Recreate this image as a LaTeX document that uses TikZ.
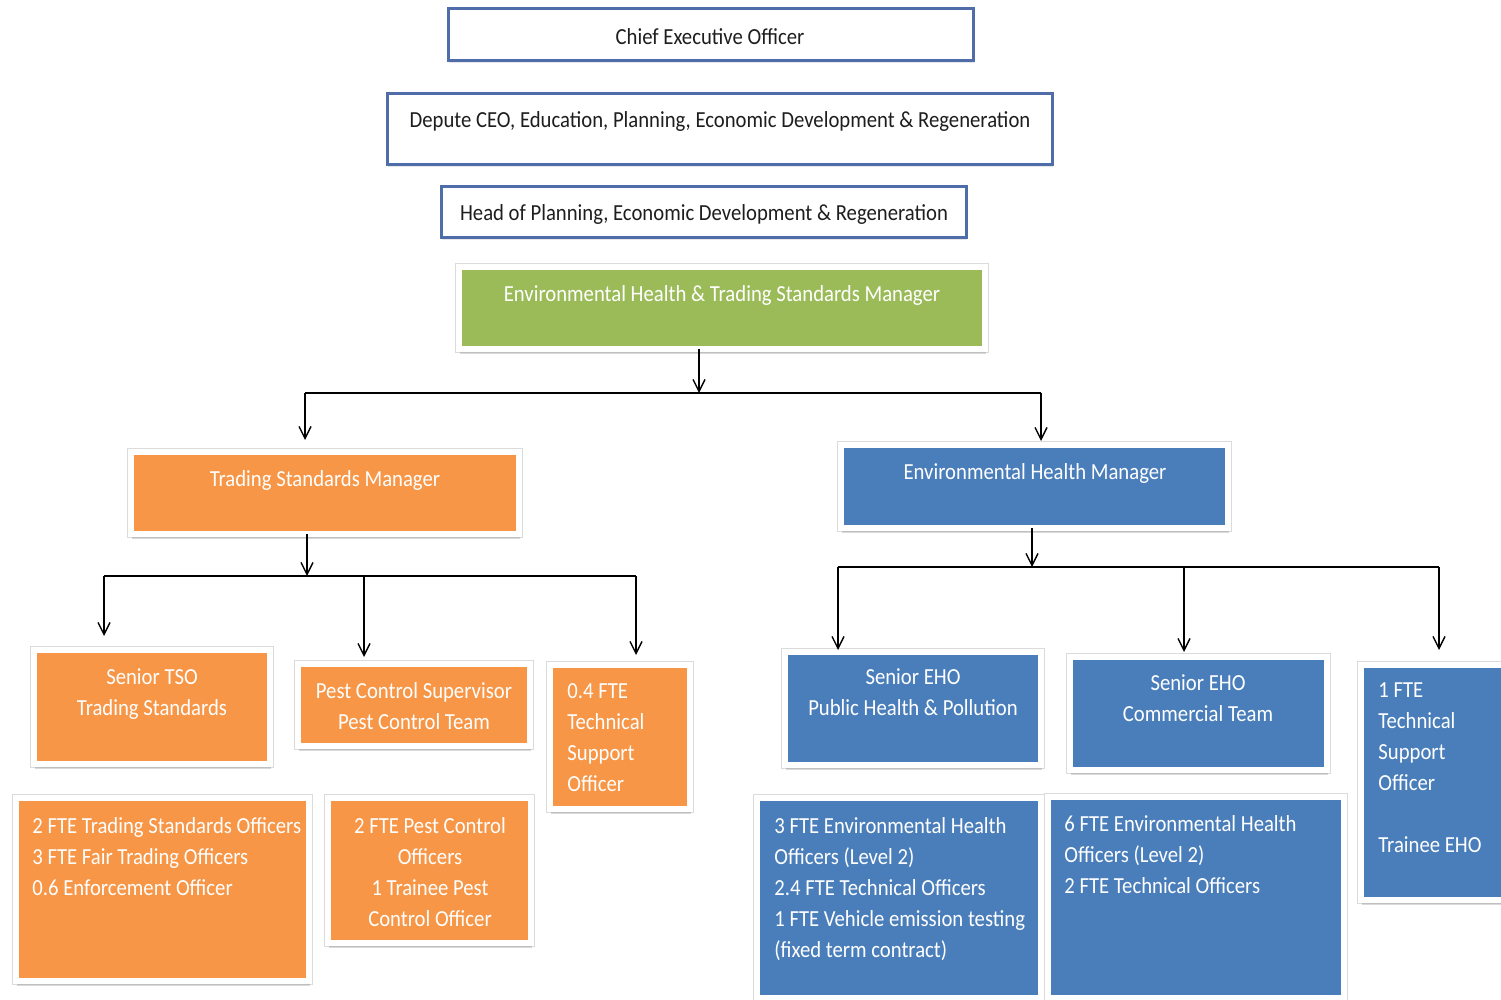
\documentclass[tikz,border=0pt]{standalone}
\usepackage{fontspec}
\setmainfont{Carlito}[FakeStretch=0.9]
\usetikzlibrary{fit,shadows,arrows.meta}

\definecolor{ceoblue}{RGB}{79,109,168}
\definecolor{ehgreen}{RGB}{155,187,89}
\definecolor{tsorange}{RGB}{247,150,70}
\definecolor{ehblue}{RGB}{74,126,187}
\definecolor{inkdark}{RGB}{30,30,30}

\newcommand\orgfont{\fontsize{11.5}{15.5}\selectfont}

\tikzset{
  topbox/.style={draw=ceoblue, line width=1.5pt, fill=white, inner sep=0pt, outer sep=0pt,
    drop shadow={shadow xshift=0.3pt, shadow yshift=-1pt, opacity=.2, fill=black!50}},
  unitbox/.style={fill=#1, draw=white, line width=3pt, inner sep=1.5pt, outer sep=0pt,
    preaction={draw=black!14, line width=3.8pt},
    drop shadow={shadow xshift=0.5pt, shadow yshift=-2.5pt, opacity=.3, fill=black!50}},
  toptext/.style={text=inkdark, font=\orgfont, inner sep=0pt, anchor=north, align=center},
  boxtext/.style={text=white, font=\orgfont, inner sep=0pt, anchor=north, align=center},
  listtext/.style={text=white, font=\orgfont, inner sep=0pt, anchor=north west, align=left},
  arr/.style={-{Straight Barb[length=6pt,width=6pt]}, line width=0.7pt},
  bar/.style={line width=0.7pt},
}

\begin{document}
\begin{tikzpicture}[x=0.5pt, y=-0.5pt]
    \useasboundingbox (0,0) rectangle (1501,1000);
    \clip (0,0) rectangle (1501,1000);

    % top of the chain
    \node[topbox, fit={(448,9) (973,61)}] (ceo) {};
    \node[toptext] (ceo-txt) at (710,28) {Chief Executive Officer};
    \node[topbox, fit={(387,94) (1052,165)}] (dep) {};
    \node[toptext] (dep-txt) at (720,111) {Depute CEO, Education, Planning, Economic Development \& Regeneration};
    \node[topbox, fit={(441,187) (966,238)}] (head) {};
    \node[toptext] (head-txt) at (704,204) {Head of Planning, Economic Development \& Regeneration};

    \node[unitbox=ehgreen, fit={(462,270) (982,346)}] (ehts) {};
    \node[boxtext] (ehts-txt) at (722,285) {Environmental Health \& Trading Standards Manager};

    % trading standards side
    \node[unitbox=tsorange, fit={(134,455) (516,531)}] (tsm) {};
    \node[boxtext] (tsm-txt) at (325,470) {Trading Standards Manager};
    \node[unitbox=tsorange, fit={(37,653) (267,761)}] (sto) {};
    \node[boxtext] (sto-txt) at (152,668) {Senior TSO\\Trading Standards};
    \node[unitbox=tsorange, fit={(301,667) (527,743)}] (pcs) {};
    \node[boxtext] (pcs-txt) at (414,682) {Pest Control Supervisor\\Pest Control Team};
    \node[unitbox=tsorange, fit={(553,668) (687,806)}] (tso4) {};
    \node[listtext] (tso4-txt) at (567,683) {0.4 FTE\\Technical\\Support\\Officer};
    \node[unitbox=tsorange, fit={(19,801) (306,978)}] (tso) {};
    \node[listtext] (tso-txt) at (32,817) {2 FTE Trading Standards Officers\\3 FTE Fair Trading Officers\\0.6 Enforcement Officer};
    \node[unitbox=tsorange, fit={(331,801) (528,940)}] (pco) {};
    \node[boxtext] (pco-txt) at (430,817) {2 FTE Pest Control\\Officers\\1 Trainee Pest\\Control Officer};

    % environmental health side
    \node[unitbox=ehblue, fit={(844,448) (1225,525)}] (ehm) {};
    \node[boxtext] (ehm-txt) at (1035,463) {Environmental Health Manager};
    \node[unitbox=ehblue, fit={(788,655) (1038,762)}] (seho1) {};
    \node[boxtext] (seho1-txt) at (913,668) {Senior EHO\\Public Health \& Pollution};
    \node[unitbox=ehblue, fit={(1073,660) (1324,767)}] (seho2) {};
    \node[boxtext] (seho2-txt) at (1198,674) {Senior EHO\\Commercial Team};
    \node[unitbox=ehblue, fit={(1364,668) (1520,897)}] (tech1) {};
    \node[listtext] (tech1-txt) at (1378,682) {1 FTE\\Technical\\Support\\Officer\\[15.5pt]Trainee EHO};
    \node[unitbox=ehblue, fit={(760,801) (1038,995)}] (eho3) {};
    \node[listtext] (eho3-txt) at (774,817) {3 FTE Environmental Health\\Officers (Level 2)\\2.4 FTE Technical Officers\\1 FTE Vehicle emission testing\\(fixed term contract)};
    \node[unitbox=ehblue, fit={(1051,800) (1341,995)}] (eho6) {};
    \node[listtext] (eho6-txt) at (1064,815) {6 FTE Environmental Health\\Officers (Level 2)\\2 FTE Technical Officers};

    % connectors
    \coordinate (split1) at (699,393);
    \coordinate (tsdrop) at (305,393);
    \coordinate (ehdrop) at (1041,393);
    \draw[arr] (ehts.south -| split1) -- (split1);
    \draw[bar] (tsdrop) -- (ehdrop);
    \draw[arr, shorten >=6pt] (tsdrop) -- (tsdrop |- tsm.north);
    \draw[arr, shorten >=2pt] (ehdrop) -- (ehdrop |- ehm.north);

    \coordinate (split2) at (307,576);
    \coordinate (stodrop) at (104,576);
    \coordinate (pcsdrop) at (364,576);
    \coordinate (tso4drop) at (636,576);
    \draw[arr] (tsm.south -| split2) -- (split2);
    \draw[bar] (stodrop) -- (tso4drop);
    \draw[arr, shorten >=7pt] (stodrop) -- (stodrop |- sto.north);
    \draw[arr, shorten >=3.5pt] (pcsdrop) -- (pcsdrop |- pcs.north);
    \draw[arr, shorten >=5pt] (tso4drop) -- (tso4drop |- tso4.north);

    \coordinate (split3) at (1032,567);
    \coordinate (seho1drop) at (838,567);
    \coordinate (seho2drop) at (1184,567);
    \coordinate (tech1drop) at (1439,567);
    \draw[arr] (ehm.south -| split3) -- (split3);
    \draw[bar] (seho1drop) -- (tech1drop);
    \draw[arr, shorten >=1pt] (seho1drop) -- (seho1drop |- seho1.north);
    \draw[arr, shorten >=2.5pt] (seho2drop) -- (seho2drop |- seho2.north);
    \draw[arr, shorten >=7.5pt] (tech1drop) -- (tech1drop |- tech1.north);
\end{tikzpicture}
\end{document}
